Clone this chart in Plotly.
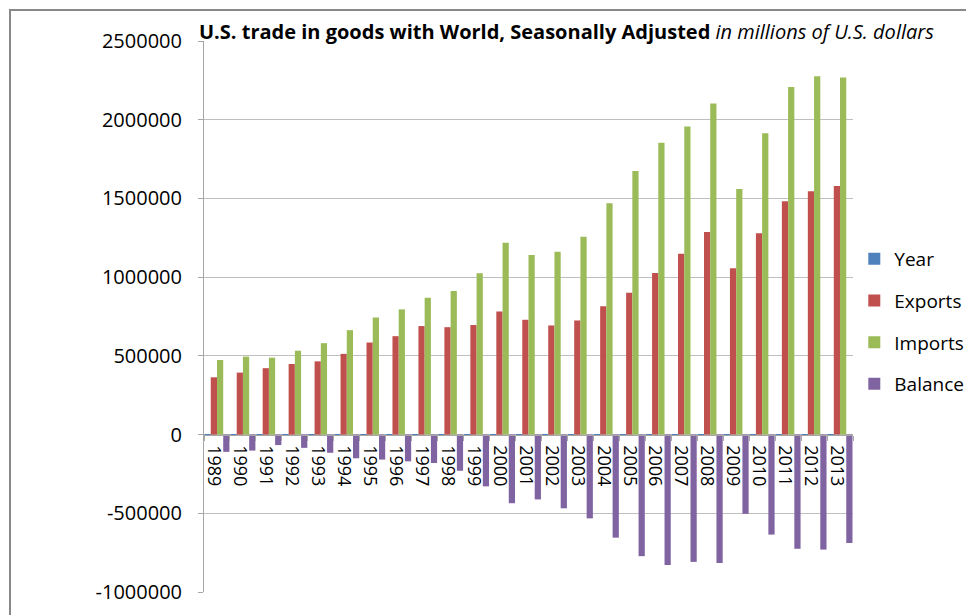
import plotly.graph_objects as go

years = [1989, 1990, 1991, 1992, 1993, 1994, 1995, 1996, 1997, 1998, 1999, 2000, 2001,
         2002, 2003, 2004, 2005, 2006, 2007, 2008, 2009, 2010, 2011, 2012, 2013]
exports = [363812, 393592, 421730, 448164, 465091, 512626, 584742, 625075, 689182, 682138,
           695797, 781918, 729100, 693103, 724771, 814875, 901082, 1025967, 1148199, 1287442,
           1056043, 1278495, 1482508, 1545703, 1579593]
imports = [473647, 495311, 488453, 532665, 580659, 663256, 743543, 795289, 869704, 911896,
           1024618, 1218022, 1140999, 1161366, 1257121, 1469704, 1673455, 1853938, 1956962,
           2103641, 1559625, 1913857, 2208032, 2276267, 2268370]
balance = [-109835, -101719, -66723, -84501, -115568, -150630, -158801, -170214, -180522,
           -229758, -328821, -436104, -411899, -468263, -532350, -654829, -772373, -827971,
           -808763, -816199, -503582, -635362, -725524, -730564, -688777]
y_ticks = [-1000000, -500000, 0, 500000, 1000000, 1500000, 2000000, 2500000]

cats = [str(y) for y in years]
FONT = "Open Sans"

fig = go.Figure()
series = [("Year", years, "#4F81BD"), ("Exports", exports, "#C0504D"),
          ("Imports", imports, "#9BBB59"), ("Balance", balance, "#8064A2")]
for name, vals, col in series:
    fig.add_trace(go.Bar(x=cats, y=vals, name=name, marker=dict(color=col, line=dict(width=0)),
                         legendgroup=name))

ymin, ymax = y_ticks[0], y_ticks[-1]
zero_pos = (0 - ymin) / (ymax - ymin)

# the page places the figure 8px from the top-left corner of the window
fig.update_layout(
    width=974, height=615,
    margin=dict(l=196, r=129, t=33, b=31, autoexpand=False),
    paper_bgcolor="white", plot_bgcolor="white",
    barmode="group", bargap=0.04, bargroupgap=0,
    font=dict(family=FONT, color="black"),
    showlegend=True,
    legend=dict(x=1.002, xanchor="left", y=0.639, yanchor="top", font=dict(size=19),
                traceorder="grouped", tracegroupgap=14, bgcolor="rgba(0,0,0,0)"),
    xaxis=dict(type="category", anchor="free", position=zero_pos, showline=True,
               linecolor="#A6A6A6", linewidth=1, ticks="outside", tickson="boundaries",
               ticklen=5, tickcolor="#A6A6A6", tickangle=90, showgrid=False,
               ticklabelshift=-3, ticklabelstandoff=6,
               automargin=False, tickfont=dict(size=18, family=FONT)),
    yaxis=dict(range=[ymin, ymax], tickmode="array", tickvals=y_ticks,
               ticktext=[str(v) for v in y_ticks], showgrid=True, gridcolor="#BFBFBF",
               gridwidth=1, zeroline=False, showline=True, linecolor="#A6A6A6",
               ticks="outside", ticklen=5, tickcolor="#A6A6A6", automargin=False,
               ticklabelstandoff=12, tickfont=dict(size=20, family=FONT)),
)

fig.add_annotation(
    text="<b>U.S. trade in goods with World, Seasonally Adjusted</b> <i>in millions of U.S. dollars</i>",
    xref="paper", yref="paper", x=-0.011, y=1.0, xanchor="left", yanchor="bottom",
    yshift=-6, showarrow=False, font=dict(size=20, family=FONT, color="black"))

fig.add_shape(type="rect", xref="paper", yref="paper",
              x0=-0.2989, y0=-0.08, x1=1.25, y1=1.0563,
              line=dict(color="#898989", width=2), fillcolor="rgba(0,0,0,0)", layer="below")

fig.write_html("out.html")
